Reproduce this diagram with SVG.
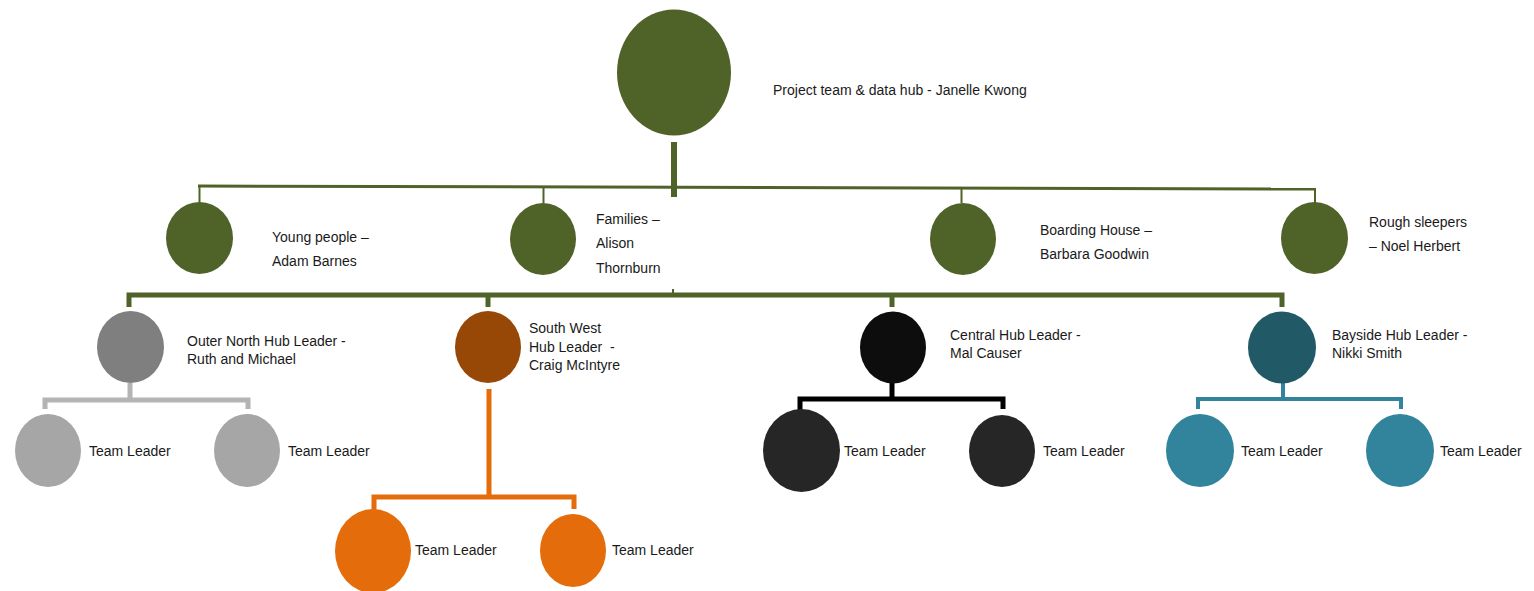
<svg xmlns="http://www.w3.org/2000/svg" width="1534" height="591" viewBox="0 0 1534 591">
<style>
text { font-family: "Liberation Sans", Arial, sans-serif; font-size: 14px; fill: #1a1a1a; }
.g { fill: #4f6228; }
.c { fill: none; stroke-linecap: butt; }
.cg { stroke: #4f6228; }
.cgr { stroke: #b4b4b4; }
.co { stroke: #e46c0a; }
.cb { stroke: #000000; }
.ct { stroke: #31849b; }
</style>
<rect width="1534" height="591" fill="#ffffff"/>
<g id="connectors">
  <line class="c cg" x1="674" y1="142" x2="674" y2="197" stroke-width="6"/>
  <line class="c cg" x1="198" y1="186" x2="1316" y2="189" stroke-width="3"/>
  <line class="c cg" x1="199.5" y1="186" x2="199.5" y2="203" stroke-width="2"/>
  <line class="c cg" x1="543.5" y1="187" x2="543.5" y2="203" stroke-width="2"/>
  <line class="c cg" x1="961.5" y1="188" x2="961.5" y2="203" stroke-width="2"/>
  <line class="c cg" x1="1315" y1="189" x2="1315" y2="203" stroke-width="2"/>
  <path class="c cg" d="M129,307 V295 H1282 V307" stroke-width="5"/>
  <line class="c cg" x1="488" y1="295" x2="488" y2="307" stroke-width="5"/>
  <line class="c cg" x1="892" y1="295" x2="892" y2="307" stroke-width="5"/>
  <line class="c cg" x1="673" y1="289" x2="673" y2="295" stroke-width="2"/>
  <path class="c cgr" d="M130,383 V400 M45,409 V400 H248 V409" stroke-width="5"/>
  <path class="c co" d="M489,389 V497 M374,510 V497 H574 V509" stroke-width="5"/>
  <path class="c cb" d="M892,383 V399 M800,410 V399 H1003 V409" stroke-width="5"/>
  <path class="c ct" d="M1283,383 V399 M1198,409 V399 H1401 V409" stroke-width="4"/>
</g>
<g id="project-team">
  <ellipse class="g" cx="674" cy="72.5" rx="57" ry="63"/>
  <text x="773" y="95">Project team &amp; data hub - Janelle Kwong</text>
</g>
<g id="young-people">
  <ellipse class="g" cx="199.5" cy="238" rx="33.5" ry="36"/>
  <text x="272" y="242">Young people –</text>
  <text x="272" y="266">Adam Barnes</text>
</g>
<g id="families">
  <ellipse class="g" cx="543" cy="239" rx="33" ry="36"/>
  <text x="596" y="224">Families –</text>
  <text x="596" y="248">Alison</text>
  <text x="596" y="273">Thornburn</text>
</g>
<g id="boarding-house">
  <ellipse class="g" cx="963" cy="239" rx="33" ry="36"/>
  <text x="1040" y="235">Boarding House –</text>
  <text x="1040" y="259">Barbara Goodwin</text>
</g>
<g id="rough-sleepers">
  <ellipse class="g" cx="1314.5" cy="238" rx="33.5" ry="36"/>
  <text x="1369" y="227">Rough sleepers</text>
  <text x="1369" y="251">– Noel Herbert</text>
</g>
<g id="outer-north">
  <ellipse cx="130.5" cy="347" rx="33.5" ry="36" fill="#7f7f7f"/>
  <text x="187" y="346">Outer North Hub Leader -</text>
  <text x="187" y="364">Ruth and Michael</text>
</g>
<g id="south-west">
  <ellipse cx="488" cy="347" rx="33" ry="36" fill="#974806"/>
  <text x="529" y="333">South West</text>
  <text x="529" y="352" xml:space="preserve">Hub Leader  -</text>
  <text x="529" y="370">Craig McIntyre</text>
</g>
<g id="central">
  <ellipse cx="893" cy="347.5" rx="33" ry="36" fill="#0d0d0d"/>
  <text x="950" y="340">Central Hub Leader -</text>
  <text x="950" y="358">Mal Causer</text>
</g>
<g id="bayside">
  <ellipse cx="1282" cy="347.5" rx="34" ry="36" fill="#215967"/>
  <text x="1332" y="340">Bayside Hub Leader -</text>
  <text x="1332" y="358">Nikki Smith</text>
</g>
<g id="outer-north-tl1">
  <ellipse cx="48" cy="450.5" rx="33" ry="36.5" fill="#a6a6a6"/>
  <text x="89" y="456">Team Leader</text>
</g>
<g id="outer-north-tl2">
  <ellipse cx="247" cy="450.5" rx="33" ry="36.5" fill="#a6a6a6"/>
  <text x="288" y="456">Team Leader</text>
</g>
<g id="south-west-tl1">
  <ellipse cx="373" cy="551" rx="38" ry="42" fill="#e46c0a"/>
  <text x="415" y="555">Team Leader</text>
</g>
<g id="south-west-tl2">
  <ellipse cx="573" cy="550.5" rx="33" ry="36.5" fill="#e46c0a"/>
  <text x="612" y="555">Team Leader</text>
</g>
<g id="central-tl1">
  <ellipse cx="801.5" cy="450.5" rx="38.5" ry="41.5" fill="#262626"/>
  <text x="844" y="456">Team Leader</text>
</g>
<g id="central-tl2">
  <ellipse cx="1002" cy="451" rx="33" ry="36" fill="#262626"/>
  <text x="1043" y="456">Team Leader</text>
</g>
<g id="bayside-tl1">
  <ellipse cx="1200" cy="450.5" rx="34" ry="36.5" fill="#31849b"/>
  <text x="1241" y="456">Team Leader</text>
</g>
<g id="bayside-tl2">
  <ellipse cx="1400" cy="450.5" rx="34" ry="36.5" fill="#31849b"/>
  <text x="1440" y="456">Team Leader</text>
</g>
</svg>
